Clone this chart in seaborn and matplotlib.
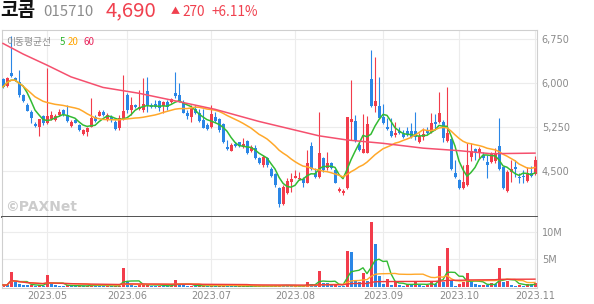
import numpy as np
import pandas as pd
import matplotlib
matplotlib.use("Agg")
import matplotlib.pyplot as plt
import seaborn as sns

# ---------------- data ----------------
holidays = ["2023-05-01", "2023-05-05", "2023-05-29", "2023-06-06", "2023-08-15",
            "2023-09-28", "2023-09-29", "2023-10-02", "2023-10-03", "2023-10-09"]

open_ = [6070, 5955, 6170, 6090, 6030, 5800, 5630, 5517, 5306, 5250,
         5443, 5329, 5386, 5380, 5460, 5540, 5460, 5278, 5380, 5290,
         5136, 5176, 5261, 5432, 5449, 5517, 5375, 5420, 5346, 5233,
         5386, 5801, 5545, 5630, 5562, 5545, 5869, 5630, 5640, 5704,
         5613, 5687, 5687, 5829, 5801, 5687, 5488, 5420, 5562, 5488,
         5375, 5290, 5250, 5420, 5386, 5306, 4909, 4852, 4965, 4994,
         4909, 5017, 4852, 4892, 4732, 4607, 4732, 4534, 4448, 4210,
         3942, 4124, 4323, 4392, 4363, 4369, 4306, 4931, 4465, 4409,
         4732, 4551, 4647, 4522, 4170, 4125, 4210, 5346, 5363, 4948,
         4818, 4818, 6074, 5613, 5613, 5420, 5250, 5193, 5119, 5193,
         5131, 5193, 5193, 5193, 5005, 5091, 5204, 5176, 5346, 5346,
         5346, 5022, 5051, 4477, 4352, 4210, 4267, 4738, 4880, 4835,
         4778, 4664, 4664, 4670, 4931, 4568, 4170, 4494, 4568, 4409,
         4426, 4340, 4477, 4454]
high = [6090, 6100, 6800, 6110, 6230, 5810, 5660, 5540, 5340, 5400,
        5460, 6267, 5534, 5470, 5556, 5560, 5630, 5375, 5390, 5300,
        5215, 5260, 5744, 5460, 5545, 5545, 5490, 5460, 5375, 5460,
        6142, 5830, 5772, 5650, 5886, 6085, 6113, 5670, 5710, 5720,
        5700, 5720, 5755, 6199, 6011, 5720, 5545, 5630, 5630, 5570,
        5560, 5320, 5630, 5517, 5403, 5318, 5034, 4977, 5005, 5005,
        5062, 5034, 4948, 4948, 4750, 4778, 4750, 4568, 4465, 4238,
        4266, 4380, 4465, 4522, 4494, 4409, 4863, 5005, 4550, 5517,
        4750, 4823, 4664, 4534, 4238, 4192, 5432, 6056, 5460, 4977,
        5477, 5443, 6568, 6454, 6113, 5647, 5403, 5403, 5346, 5250,
        5204, 5260, 5318, 5517, 5148, 5244, 5261, 5488, 5477, 5858,
        5375, 5943, 5062, 4693, 4369, 4607, 4988, 4988, 4892, 4909,
        4835, 4778, 4835, 4892, 5403, 4579, 4522, 4693, 4693, 4465,
        4522, 4579, 4590, 4760]
low = [5920, 5940, 6110, 6040, 5770, 5690, 5520, 5320, 5260, 5100,
       5290, 5306, 5370, 5360, 5450, 5450, 5340, 5260, 5320, 5190,
       5120, 5102, 5250, 5340, 5440, 5440, 5360, 5346, 5200, 5204,
       5375, 5488, 5460, 5580, 5545, 5517, 5517, 5580, 5580, 5520,
       5490, 5545, 5660, 5745, 5690, 5490, 5400, 5346, 5480, 5340,
       5230, 5204, 5230, 5346, 5176, 4977, 4863, 4852, 4920, 4920,
       4892, 4795, 4835, 4704, 4630, 4580, 4580, 4409, 4238, 3886,
       3926, 4113, 4153, 4380, 4352, 4238, 4295, 4522, 4380, 4380,
       4494, 4522, 4534, 4295, 4153, 4096, 4193, 5034, 5005, 4852,
       4806, 4806, 5590, 5517, 5403, 5306, 5204, 5091, 5091, 5136,
       5062, 5102, 5062, 5034, 4988, 5034, 5130, 5148, 5204, 5318,
       5005, 5005, 4522, 4380, 4193, 4193, 4250, 4681, 4693, 4721,
       4693, 4380, 4636, 4636, 4522, 4193, 4153, 4323, 4409, 4295,
       4295, 4323, 4409, 4437]
close = [5940, 6085, 6130, 6060, 5800, 5704, 5534, 5403, 5278, 5386,
         5318, 5443, 5460, 5450, 5517, 5470, 5363, 5346, 5330, 5204,
         5204, 5244, 5403, 5363, 5517, 5460, 5460, 5370, 5216, 5403,
         5528, 5545, 5630, 5590, 5602, 5648, 5630, 5590, 5600, 5573,
         5687, 5602, 5732, 5789, 5704, 5500, 5443, 5585, 5500, 5358,
         5244, 5216, 5470, 5363, 5204, 5005, 4875, 4948, 4931, 4931,
         4960, 4806, 4909, 4721, 4647, 4750, 4607, 4426, 4266, 3942,
         4238, 4335, 4369, 4420, 4392, 4306, 4636, 4533, 4409, 4806,
         4522, 4647, 4551, 4306, 4198, 4170, 5420, 5386, 5017, 4863,
         4875, 5301, 5613, 5704, 5415, 5318, 5216, 5102, 5159, 5159,
         5091, 5136, 5091, 5079, 5102, 5136, 5159, 5330, 5301, 5488,
         5062, 5159, 4533, 4409, 4210, 4323, 4607, 4852, 4835, 4875,
         4721, 4607, 4806, 4806, 4533, 4210, 4494, 4534, 4534, 4380,
         4398, 4477, 4420, 4690]
volume_m = [0.40, 0.35, 2.80, 0.90, 0.60, 0.40, 0.35, 0.40, 0.30, 0.35,
            0.25, 2.20, 0.60, 0.35, 0.30, 0.25, 0.35, 0.25, 0.20, 0.25,
            0.20, 0.25, 0.60, 0.30, 0.25, 0.20, 0.25, 0.20, 0.25, 0.30,
            3.50, 1.00, 0.50, 0.30, 0.35, 0.50, 0.60, 0.30, 0.25, 0.30,
            0.25, 0.20, 0.25, 1.30, 0.50, 0.35, 0.25, 0.30, 0.20, 0.25,
            0.30, 0.20, 0.30, 0.20, 0.30, 0.35, 0.30, 0.20, 0.15, 0.15,
            0.20, 0.25, 0.15, 0.20, 0.20, 0.20, 0.15, 0.25, 0.30, 0.45,
            0.35, 0.25, 0.20, 0.20, 0.15, 0.20, 1.00, 0.50, 0.25, 3.00,
            0.80, 0.70, 0.40, 0.50, 0.30, 0.25, 6.50, 6.30, 1.30, 0.90,
            2.50, 1.20, 11.80, 7.70, 2.00, 0.50, 1.50, 0.40, 1.00, 0.35,
            0.30, 0.50, 0.35, 1.10, 0.40, 0.30, 0.35, 0.90, 0.50, 3.90,
            1.00, 7.00, 1.10, 0.30, 0.50, 0.90, 2.60, 1.00, 0.50, 0.35,
            0.40, 0.35, 0.80, 0.60, 3.50, 1.00, 1.20, 0.45, 0.30, 0.35,
            0.30, 0.60, 0.50, 0.80]
# 60-day moving average of price (candle index, value)
ma60_idx = [0, 5, 11, 17, 25, 34, 42, 53, 64, 79, 86, 95, 105, 114, 122, 133]
ma60_val = [6680, 6500, 6310, 6110, 5930, 5830, 5716, 5557, 5350, 5105,
            5034, 4977, 4895, 4852, 4800, 4810]
price_ticks = [4500, 5250, 6000, 6750]
vol_ticks = [5, 10]
vol_tick_labels = ["5M", "10M"]

# ---------------- derived ----------------
days = pd.bdate_range("2023-04-14", "2023-11-01")
days = days[~days.isin(pd.to_datetime(holidays))]
n = len(close)
df = pd.DataFrame({"i": np.arange(n), "date": days[:n], "open": open_, "high": high,
                   "low": low, "close": close, "vol": volume_m})
df["ma5"] = df["close"].rolling(5, min_periods=1).mean()
df["ma20"] = df["close"].rolling(20, min_periods=1).mean()
df["v5"] = df["vol"].rolling(5, min_periods=1).mean()
df["v20"] = df["vol"].rolling(20, min_periods=1).mean()
df["v60"] = df["vol"].rolling(60, min_periods=1).mean()
ma60 = pd.DataFrame({"i": ma60_idx, "ma60": ma60_val})

month_start = df.groupby(df["date"].dt.to_period("M"))["i"].min()
month_start = month_start[month_start.index > pd.Period("2023-04", "M")]
tick_pos = list(month_start.values)
tick_lab = [p.strftime("%Y.%m") for p in month_start.index]

UP, DOWN = "#f23c4b", "#2a86e6"
C5, C20, C60 = "#33bb33", "#ffa82a", "#f5506e"
GRID = "#ececec"

W, H = 594, 304
fig = plt.figure(figsize=(W / 100, H / 100), dpi=100)
fig.patch.set_facecolor("white")

def fx(px):
    return px / W

def fy(py):
    return 1 - py / H

ax = fig.add_axes([fx(2), fy(217), fx(535), (217 - 30) / H])
axv = fig.add_axes([fx(2), fy(288), fx(535), (288 - 217) / H])

for a in (ax, axv):
    a.set_xlim(-0.25, 133.5)
    a.set_facecolor("white")
    for x in tick_pos:
        a.axvline(x, color=GRID, lw=0.8, zorder=0)
    a.tick_params(length=0, colors="#8a8a8a", labelsize=7)
    a.yaxis.tick_right()
    for s in a.spines.values():
        s.set_color("#cfcfcf")
        s.set_linewidth(0.8)

# ---------- price panel ----------
ax.set_ylim(3721, 6909)
for t in price_ticks:
    ax.axhline(t, color=GRID, lw=0.8, zorder=0)
ax.set_yticks(price_ticks)
ax.set_yticklabels([f"{t:,}" for t in price_ticks])
ax.tick_params(axis="y", pad=3.5)
ax.set_xticks([])
ax.spines["bottom"].set_color("#444444")
ax.spines["bottom"].set_linewidth(1.3)

up = df["close"] >= df["open"]
cols = np.where(up, UP, DOWN)
ax.vlines(df["i"], df["low"], df["high"], colors=cols, lw=0.8, zorder=2)
body_lo = np.minimum(df["open"], df["close"])
body_h = np.maximum(np.abs(df["close"] - df["open"]), 12)
ax.bar(df["i"], body_h, bottom=body_lo, width=0.75, color=cols, linewidth=0, zorder=3)

sns.lineplot(data=df, x="i", y="ma5", ax=ax, color=C5, lw=1.1, zorder=4, legend=False)
sns.lineplot(data=df, x="i", y="ma20", ax=ax, color=C20, lw=1.1, zorder=4, legend=False)
sns.lineplot(data=ma60, x="i", y="ma60", ax=ax, color=C60, lw=1.1, zorder=4, legend=False)
ax.set_xlabel("")
ax.set_ylabel("")
ax.set_xlim(-0.25, 133.5)
ax.set_ylim(3721, 6909)

# ---------- volume panel ----------
axv.set_ylim(-0.15, 12.66)
for t in vol_ticks:
    axv.axhline(t, color=GRID, lw=0.8, zorder=0)
axv.set_yticks(vol_ticks)
axv.set_yticklabels(vol_tick_labels)
axv.tick_params(axis="y", pad=3.5)
axv.spines["top"].set_visible(False)
vcol = [UP] + [UP if df["vol"][k] >= df["vol"][k - 1] else DOWN for k in range(1, n)]
axv.bar(df["i"], df["vol"], width=0.75, color=vcol, linewidth=0, zorder=2)
sns.lineplot(data=df, x="i", y="v5", ax=axv, color=C5, lw=1.0, zorder=3, legend=False)
sns.lineplot(data=df, x="i", y="v20", ax=axv, color=C20, lw=1.0, zorder=3, legend=False)
sns.lineplot(data=df, x="i", y="v60", ax=axv, color="#f03a3a", lw=1.0, zorder=3, legend=False)
axv.set_xlabel("")
axv.set_ylabel("")
axv.set_xlim(-0.25, 133.5)
axv.set_ylim(-0.15, 12.66)
axv.set_xticks(tick_pos)
axv.set_xticklabels(tick_lab)
axv.tick_params(axis="x", pad=2.5, labelsize=7)

# ---------- texts ----------
KR = ["Noto Sans CJK KR", "DejaVu Sans"]
fig.text(fx(0), fy(16.5), "코콤", family=KR, fontsize=13.8, weight="bold", color="#111111", va="baseline")
fig.text(fx(43), fy(16.5), "015710", family=KR, fontsize=10.8, color="#8c8c8c", va="baseline")
fig.text(fx(106), fy(16.5), "4,690", family=KR, fontsize=14.7, color="#f0404e", va="baseline")
fig.text(fx(170.5), fy(14.5), "▲", family=KR, fontsize=6.5, color="#f0404e", va="baseline")
fig.text(fx(182), fy(16.5), "270", family=KR, fontsize=9.8, color="#f0404e", va="baseline")
fig.text(fx(212), fy(16.5), "+6.11%", family=KR, fontsize=9.8, color="#f0404e", va="baseline")

fig.text(fx(6.5), fy(45), "이동평균선", family=KR, fontsize=7, color="#8c8c8c", va="baseline")
fig.text(fx(60), fy(45), "5", family=KR, fontsize=7, color="#2cb52c", va="baseline")
fig.text(fx(68), fy(45), "20", family=KR, fontsize=7, color="#ffa500", va="baseline")
fig.text(fx(83), fy(45), "60", family=KR, fontsize=7, color="#e8245a", va="baseline")

fig.text(fx(5), fy(211), "©PAXNet", family=["DejaVu Sans"], fontsize=10, weight="bold",
         color="#cccccc", va="baseline")

fig.savefig("out.png", dpi=100, facecolor="white")
